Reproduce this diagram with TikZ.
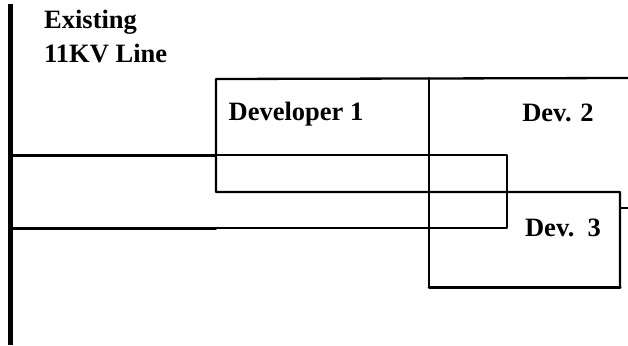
\documentclass[tikz,border=0pt]{standalone}
\usepackage{fontspec}
\setmainfont{Liberation Serif}
\usetikzlibrary{positioning}

\begin{document}
\begin{tikzpicture}[
      x=1pt, y=-1pt,
      font=\fontsize{26.5}{30}\selectfont\bfseries,
      bus/.style={line width=5pt},
      wire/.style={line width=2.3pt, line join=round, line cap=round},
      heavy/.style={wire, line width=3pt},
      lbl/.style={inner sep=0pt, anchor=base},
    ]
    \useasboundingbox (0,0) rectangle (628,345);

    % --- the existing 11KV line (vertical bus) -----------------------------
    \draw[bus] (10,4) -- (10,345);
    \node[lbl, anchor=base west] (existing) at (44,29) {Existing};
    \node[lbl, anchor=base west] (kvline)   at (44,62) {11KV Line};

    % --- feeder loop from the bus ------------------------------------------
    \draw[heavy] (10,155) -- (216,155);
    \draw[heavy] (10,228) -- (216,228);
    \draw[wire]  (216,155) -- (507,155) -- (507,228) -- (216,228);

    % --- plot boundaries ---------------------------------------------------
    \draw[wire] (628,78) -- (216,79) -- (216,192) -- (620,192) -- (620,287);
    \draw[wire] (429,78) -- (429,287);
    \draw[heavy] (429,287) -- (620,287);
    \draw[wire] (620,208) -- (628,208);

    % --- plot labels -------------------------------------------------------
    \node[lbl] (dev1) at (296,120) {Developer 1};
    \node[lbl] (dev2) at (558,121) {Dev. 2};
    \node[lbl] (dev3) at (563,236) {Dev.\ \ 3};
  \end{tikzpicture}
\end{document}
